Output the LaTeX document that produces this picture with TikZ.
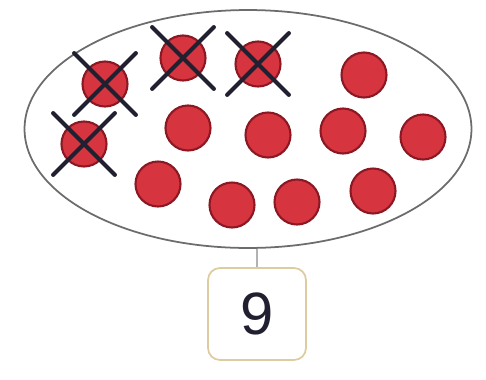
\documentclass[tikz,border=0pt]{standalone}
\usepackage{fontspec}
\setsansfont{Liberation Sans}
\usepackage{tikz}
\usetikzlibrary{positioning, shapes.geometric, shapes.misc, calc}

\definecolor{ballred}{RGB}{214,52,62}
\definecolor{ballrim}{RGB}{140,24,36}
\definecolor{boxtan}{RGB}{222,204,160}
\definecolor{inkdark}{RGB}{32,32,48}

\begin{document}
\begin{tikzpicture}[x=0.02cm, y=-0.02cm,
    ball/.style={circle, fill=ballred, draw=ballrim, line width=1.2pt, minimum size=0.9cm, inner sep=0pt},
    crossmark/.style={cross out, draw=inkdark, line width=2.4pt, line cap=round, minimum size=1.15cm, inner sep=0pt},
    oval/.style={ellipse, draw=gray!85!black, line width=1pt, minimum width=8.94cm, minimum height=4.76cm, inner sep=0pt},
    numbox/.style={draw=boxtan, line width=1pt, rounded corners=0.24cm, minimum width=1.96cm, minimum height=1.84cm, font=\sffamily\fontsize{34}{34}\selectfont, text=inkdark}
]
\useasboundingbox (0,0) rectangle (486,379);

\node[oval] (set) at (248,129) {};

% the balls, the first four are crossed out
\foreach \x/\y [count=\i] in {105/84, 183/58, 258/64, 84/144, 364/75, 188/128, 268/135, 343/131, 423/137, 158/184, 232/205, 297/202, 373/191} {
    \node[ball] (b\i) at (\x,\y) {};
}
\foreach \i in {1,...,4} {
    \node[crossmark] (x\i) at (b\i) {};
}

\node[numbox] (count) at (257,314) {9};

\draw[gray!60, line width=0.6pt] (count.north |- set.south) -- (count.north);

\end{tikzpicture}
\end{document}
